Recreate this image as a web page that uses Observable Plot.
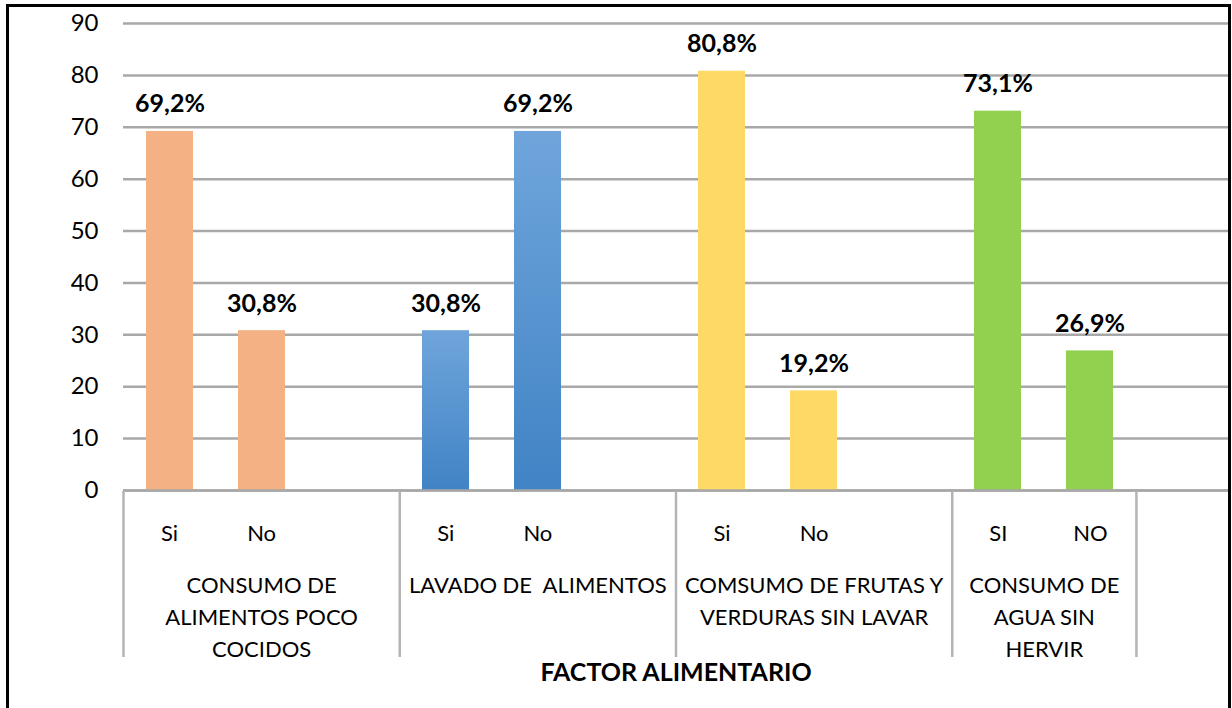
<!DOCTYPE html>
<html>
<head>
<meta charset="utf-8">
<script src="https://cdn.jsdelivr.net/npm/d3@7"></script>
<script src="https://cdn.jsdelivr.net/npm/@observablehq/plot@0.6"></script>
<style>
  html, body { margin: 0; padding: 0; background: #fff; }
  #wrap { position: relative; width: 1232px; height: 708px; overflow: hidden; background: #fff; }
  #frame { position: absolute; left: 6px; top: 4px; width: 1225px; height: 740px; box-sizing: border-box; border: 3px solid #000; }
  #wrap svg { position: absolute; left: 0; top: 0; background: transparent; }
  svg text { white-space: pre; }
</style>
</head>
<body>
<div id="wrap"><div id="frame"></div></div>
<script>
// ---- data ----
const groups = ["CONSUMO DE\nALIMENTOS POCO\nCOCIDOS", "LAVADO DE  ALIMENTOS", "COMSUMO DE FRUTAS Y\nVERDURAS SIN LAVAR", "CONSUMO DE\nAGUA SIN\nHERVIR"];
const answers = [["Si", "No"], ["Si", "No"], ["Si", "No"], ["SI", "NO"]];
const values = [[69.2, 30.8], [30.8, 69.2], [80.8, 19.2], [73.1, 26.9]];
const slotsPerGroup = [3, 3, 3, 2];
const trailingSlots = 1;
const groupColors = ["#F4B183", "url(#blueGrad)", "#FFD966", "#92D050"];
const yTicks = [0, 10, 20, 30, 40, 50, 60, 70, 80, 90];
const xTitle = "FACTOR ALIMENTARIO";

// ---- derived tables ----
const nSlots = d3.sum(slotsPerGroup) + trailingSlots;
const slotKeys = d3.range(nSlots).map(String);
const starts = [];
let acc = 0;
for (const n of slotsPerGroup) { starts.push(acc); acc += n; }
const bars = [];
groups.forEach((g, gi) => {
  answers[gi].forEach((a, ai) => {
    bars.push({slot: String(starts[gi] + ai), pos: starts[gi] + ai + 0.5, answer: a, value: values[gi][ai], color: groupColors[gi], label: values[gi][ai].toFixed(1).replace(".", ",") + "%"});
  });
});
const groupTable = groups.map((g, gi) => ({name: g, center: starts[gi] + slotsPerGroup[gi] / 2}));
const boundaries = [...starts, acc];

const font = "Lato, 'Open Sans', sans-serif";
const W = 1232;

// gradient defs mark
const defs = () => {
  const d = d3.create("svg:defs");
  const lg = d.append("linearGradient").attr("id", "blueGrad").attr("x1", 0).attr("y1", 0).attr("x2", 0).attr("y2", 1);
  lg.append("stop").attr("offset", "0%").attr("stop-color", "#6FA5DB");
  lg.append("stop").attr("offset", "100%").attr("stop-color", "#4183C5");
  return d.node();
};

const chart = Plot.plot({
  width: W,
  height: 520,
  marginTop: 23,
  marginBottom: 30,
  marginLeft: 123,
  marginRight: 4,
  style: {fontFamily: font, fontSize: "24px", background: "transparent", color: "#000"},
  x: {type: "band", domain: slotKeys, paddingInner: 0.49, paddingOuter: 0.245, axis: null},
  y: {domain: [0, 90], ticks: yTicks},
  marks: [
    defs,
    Plot.gridY(yTicks, {stroke: "#a8a8a8", strokeWidth: 2.5, strokeOpacity: 1}),
    Plot.axisY(yTicks, {tickSize: 0, tickPadding: 25, fontSize: 24, label: null, fill: "#000"}),
    Plot.barY(bars, {x: "slot", y: "value", fill: "color"}),
    Plot.ruleY([0], {stroke: "#a8a8a8", strokeWidth: 2.5}),
    Plot.text(bars, {x: "slot", y: "value", text: "label", dy: -27, fontWeight: "bold", fontSize: 25, fill: "#000"})
  ]
});

const cats = Plot.plot({
  width: W,
  height: 708,
  marginTop: 491,
  marginBottom: 51,
  marginLeft: 123,
  marginRight: 4,
  style: {fontFamily: font, fontSize: "24px", background: "transparent", color: "#000"},
  x: {domain: [0, nSlots], axis: null},
  y: {axis: null},
  marks: [
    Plot.ruleX(boundaries, {stroke: "#b4b4b4", strokeWidth: 2.5}),
    Plot.text(bars, {x: "pos", text: "answer", frameAnchor: "top", dy: 34, fontSize: 22, fill: "#000"}),
    Plot.text(groupTable, {x: "center", text: "name", frameAnchor: "top", lineAnchor: "top", dy: 79, fontSize: 22, lineHeight: 1.45, fill: "#000"}),
    Plot.text([xTitle], {frameAnchor: "bottom", dy: 23, fontWeight: "bold", fontSize: 25, fill: "#000"})
  ]
});

const wrap = document.getElementById("wrap");
wrap.appendChild(chart);
wrap.appendChild(cats);
</script>
</body>
</html>
